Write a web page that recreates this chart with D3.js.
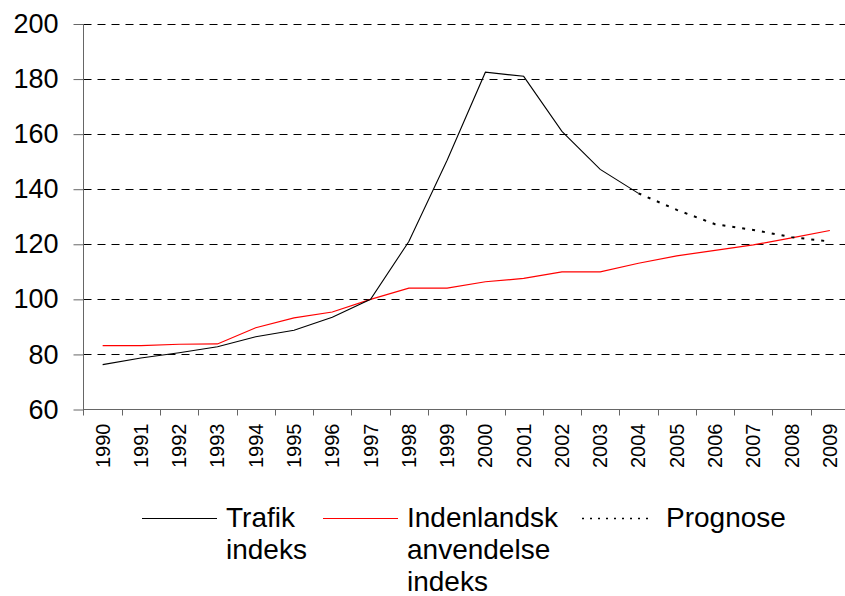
<!DOCTYPE html>
<html>
<head>
<meta charset="utf-8">
<script src="https://cdn.jsdelivr.net/npm/d3@7"></script>
<style>
  body { margin: 0; background: #fff; }
  text { font-family: "Liberation Sans", Arial, sans-serif; fill: #000; }
</style>
</head>
<body>
<div id="chart"></div>
<script>
const w = 845;
const h = 596;

const years = d3.range(1990, 2010).map(String);
const trafikYears = years.slice(0, 15); // 1990-2004
const prognoseYears = years.slice(14); // 2004-2009
const trafik = [76.3, 78.7, 80.6, 82.8, 86.4, 88.8, 93.5, 100, 121, 150.5, 182.5, 181, 161, 147.2, 138.5];
const prognose = [138.5, 132.5, 127.3, 125.2, 122.6, 121];
const indenlandsk = [83.2, 83.2, 83.7, 83.8, 89.7, 93.3, 95.4, 100, 104.1, 104.1, 106.4, 107.6, 110, 110, 113.1, 115.8, 117.8, 119.8, 122.3, 125];
const yTicks = [60, 80, 100, 120, 140, 160, 180, 200];
const legendItems = [
  { lines: ["Trafik", "indeks"], color: "#000", dash: null, x: 142 },
  { lines: ["Indenlandsk", "anvendelse", "indeks"], color: "#ff0000", dash: null, x: 323 },
  { lines: ["Prognose"], color: "#000", dash: "2,6", x: 582 }
];

const mLeft = 83.5;
const mRight = 849;
const mTop = 24;
const mBottom = 409.5;

let x = d3.scaleBand().domain(years).range([mLeft, mRight]);
let y = d3.scaleLinear().domain([60, 200]).range([mBottom, mTop]);
let cx = d => x(d) + x.bandwidth() / 2;

let svg = d3.select("#chart")
  .append("svg")
  .attr("width", w)
  .attr("height", h);

// gridlines
svg.append("g")
  .selectAll("line")
  .data(yTicks.filter(d => d > 60))
  .enter()
  .append("line")
  .attr("x1", mLeft)
  .attr("x2", mRight)
  .attr("y1", d => Math.round(y(d)) + 0.5)
  .attr("y2", d => Math.round(y(d)) + 0.5)
  .attr("stroke", "#000")
  .attr("stroke-dasharray", "8,6");

// y axis
let yAxis = svg.append("g")
  .attr("transform", `translate(${mLeft},0)`)
  .call(d3.axisLeft(y).tickValues(yTicks).tickSize(10).tickPadding(15).tickFormat(d3.format("d")));
yAxis.select(".domain").attr("stroke", "#666").attr("d", `M0,${mTop}V${mBottom + 6}`);
yAxis.selectAll(".tick line").attr("stroke", "#666");
yAxis.selectAll(".tick text").attr("font-size", 27);

// x axis
svg.append("line")
  .attr("x1", mLeft)
  .attr("x2", mRight)
  .attr("y1", mBottom)
  .attr("y2", mBottom)
  .attr("stroke", "#666");
svg.append("g")
  .selectAll("line")
  .data(years.slice(1))
  .enter()
  .append("line")
  .attr("x1", d => Math.round(x(d)) + 0.5)
  .attr("x2", d => Math.round(x(d)) + 0.5)
  .attr("y1", mBottom)
  .attr("y2", mBottom + 6)
  .attr("stroke", "#666");
svg.append("g")
  .selectAll("text")
  .data(years)
  .enter()
  .append("text")
  .attr("transform", d => `translate(${cx(d) + 7},${mBottom + 14}) rotate(-90)`)
  .attr("text-anchor", "end")
  .attr("font-size", 20)
  .text(d => d);

// lines
let line = d3.line().x(d => cx(d.year)).y(d => y(d.v));

svg.append("path")
  .datum(indenlandsk.map((v, i) => ({ year: years[i], v })))
  .attr("fill", "none")
  .attr("stroke", "#ff0000")
  .attr("stroke-width", 1.2)
  .attr("d", line);

svg.append("path")
  .datum(trafik.map((v, i) => ({ year: trafikYears[i], v })))
  .attr("fill", "none")
  .attr("stroke", "#000")
  .attr("stroke-width", 1.1)
  .attr("d", line);

svg.append("path")
  .datum(prognose.map((v, i) => ({ year: prognoseYears[i], v })))
  .attr("fill", "none")
  .attr("stroke", "#000")
  .attr("stroke-width", 2)
  .attr("stroke-dasharray", "3,7")
  .attr("d", line);

// legend
let leg = svg.append("g")
  .selectAll("g")
  .data(legendItems)
  .enter()
  .append("g");
leg.append("line")
  .attr("x1", d => d.x)
  .attr("x2", d => d.x + (d.dash ? 70 : 75))
  .attr("y1", 518.5)
  .attr("y2", 518.5)
  .attr("stroke", d => d.color)
  .attr("stroke-width", d => (d.dash ? 1.5 : 1.2))
  .attr("stroke-dasharray", d => d.dash);
leg.append("text")
  .attr("y", 527)
  .attr("font-size", 28)
  .selectAll("tspan")
  .data(d => d.lines.map(t => ({ t, x: d.x + 84 })))
  .enter()
  .append("tspan")
  .attr("x", d => d.x)
  .attr("dy", (d, i) => (i === 0 ? 0 : 32))
  .text(d => d.t);
</script>
</body>
</html>
